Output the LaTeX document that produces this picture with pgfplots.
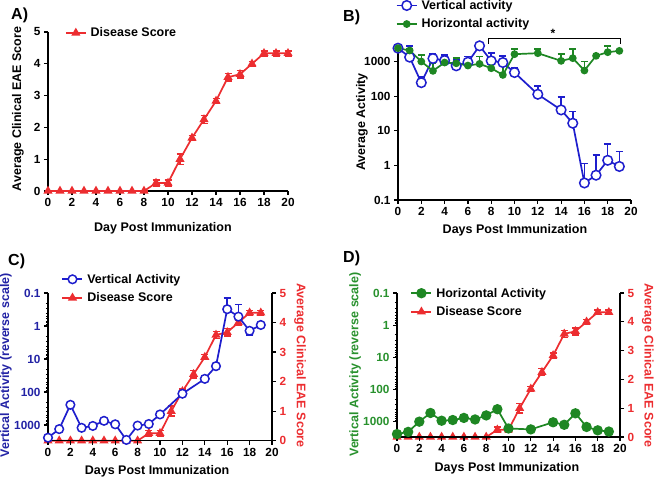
\documentclass[border=0pt]{standalone}
\usepackage{pgfplots}
\usepackage{pgfplotstable}
\pgfplotsset{compat=1.18}
\usepackage{fontspec}
\setmainfont{Liberation Sans}
\definecolor{myred}{RGB}{236,45,48}
\definecolor{myblue}{RGB}{30,30,205}
\definecolor{mygreen}{RGB}{30,135,35}
\definecolor{lblue}{RGB}{35,35,165}
\definecolor{lgreen}{RGB}{40,145,45}
\newcommand{\tf}{\fontsize{11.8}{13}\selectfont\bfseries}
\newcommand{\lf}{\fontsize{12.5}{14}\selectfont\bfseries}

\pgfplotstableread{
day score err
0 0 0
1 0 0
2 0 0
3 0 0
4 0 0
5 0 0
6 0 0
7 0 0
8 0 0
9 0.25 0.1
10 0.25 0.1
11 1.0 0.17
12 1.67 0.08
13 2.25 0.12
14 2.83 0.08
15 3.58 0.12
16 3.67 0.12
17 4.0 0.08
18 4.33 0.08
19 4.33 0.08
20 4.33 0.08
}\disease

\pgfplotstableread{
day val up cm cp
0 2430 0 0 0
1 1335 1465 0 0
2 245 115 0 0
3 1220 440 0 0
4 1070 480 0 0
5 750 370 0 0
6 955 425 0 0
7 2840 0 0 0
8 1045 700 0 0
9 935 515 0 0
10 480 170 0 0
12 113 84 0 0
14 40 53 8 0
15 16.5 20 0 0
16 0.31 0.84 0.17 0
17 0.52 1.5 0.30 0
18 1.4 2.8 0 0.5
19 0.93 1.6 0 0
}\vert

\pgfplotstableread{
day val up
0 2430 0
1 2080 300
2 1000 550
3 537 350
4 935 300
5 890 355
6 765 400
7 855 525
8 640 250
9 410 480
10 1630 640
12 1740 530
14 1045 585
15 1250 1020
16 550 450
17 1460 0
18 1860 980
19 2030 0
}\horz

\pgfplotsset{
  error bars/ebar/.style={error bar style={line width=1.5pt}, error mark options={rotate=90, mark size=3.5pt, line width=1.5pt}},
  gp/.style={scale only axis, anchor=south west,
    axis x line*=bottom, axis y line*=left,
    axis line style={-, line width=1.3pt, black},
    tick align=outside, major tick length=4pt, minor tick length=2.2pt,
    tick style={black, line width=1.2pt},
    minor tick style={line width=0.7pt},
    tick label style={font=\tf},
    /pgf/number format/assume math mode=true,
    clip=false,
    legend style={draw=none, fill=none, font=\lf, cells={anchor=west}, row sep=4pt, column sep=2pt, inner sep=0pt, nodes={inner sep=2pt}},
    legend image code/.code={\draw[mark repeat=2,mark phase=2,##1] plot coordinates {(0pt,0pt) (10pt,0pt) (20pt,0pt)};},
    xmin=0, xmax=20, xtick={0,2,...,20},
  },
  rightax/.style={scale only axis, anchor=south west, axis x line=none, axis y line*=right,
    axis line style={-, line width=1.3pt, black},
    tick align=outside, major tick length=4pt,
    tick style={black, line width=1.2pt},
    tick label style={font=\tf, color=myred},
    /pgf/number format/assume math mode=true, clip=false,
    xmin=0, xmax=20, ymin=0, ymax=5, ytick={0,...,5}},
}

\begin{document}
\begin{tikzpicture}[font=\bfseries]
\path[use as bounding box] (0,0) rectangle (655pt,479pt);

% Panel labels
\node[font=\fontsize{16}{18}\selectfont\bfseries, anchor=west, inner sep=0pt] at (11pt,464pt) {A)};
\node[font=\fontsize{16}{18}\selectfont\bfseries, anchor=west, inner sep=0pt] at (343pt,461.5pt) {B)};
\node[font=\fontsize{16}{18}\selectfont\bfseries, anchor=west, inner sep=0pt] at (8pt,218pt) {C)};
\node[font=\fontsize{16}{18}\selectfont\bfseries, anchor=west, inner sep=0pt] at (343pt,220.5pt) {D)};

% ---------------- A
\begin{axis}[gp, at={(48pt,288pt)}, width=240pt, height=159pt,
  ymin=0, ymax=5, ytick={0,...,5},
  xlabel={Day Post Immunization}, ylabel={Average Clinical EAE Score},
  every axis x label/.style={at={(axis description cs:0.479,-0.233)}, anchor=center, font=\lf},
  every axis y label/.style={at={(axis description cs:-0.125,0.516)}, anchor=center, rotate=90, font=\lf},
  legend style={at={(axis description cs:0.07,0.994)}, anchor=west}]
\addplot[color=myred, line width=1.7pt, mark=triangle*, mark size=3.6pt, error bars/.cd, y dir=both, y explicit, ebar] table[x=day, y=score, y error=err] {\disease};
\addlegendentry{Disease Score}
\end{axis}

% ---------------- B
\begin{axis}[gp, at={(398pt,279pt)}, width=233pt, height=155pt,
  ymode=log, ymin=0.1, ymax=3000, ytick={0.1,1,10,100,1000}, yticklabels={0.1,1,10,100,1000},
  yminorticks=false,
  xlabel={Days Post Immunization}, ylabel={Average Activity},
  every axis x label/.style={at={(axis description cs:0.502,-0.194)}, anchor=center, font=\lf},
  every axis y label/.style={at={(axis description cs:-0.155,0.503)}, anchor=center, rotate=90, font=\lf},
  legend style={at={(axis description cs:-0.01,1.195)}, anchor=west}]
\addplot[color=myblue, line width=1.7pt, mark=*, mark size=4.8pt, mark options={fill=white, line width=1.5pt},
  error bars/.cd, y dir=plus, y explicit, ebar] table[x=day, y=val, y error plus=up] {\vert};
\addlegendentry{Vertical activity}
\addplot[color=mygreen, line width=1.7pt, mark=*, mark size=3pt,
  error bars/.cd, y dir=plus, y explicit, ebar] table[x=day, y=val, y error plus=up] {\horz};
\addlegendentry{Horizontal activity}
\draw[line width=1pt, black] (axis cs:7.8,3160) -- (axis cs:7.8,4470) -- (axis cs:19.1,4470) -- (axis cs:19.1,3160);
\node[font=\fontsize{12}{14}\selectfont\bfseries] at (axis cs:13.3,6500) {*};
\end{axis}

% ---------------- C
\begin{axis}[rightax, at={(48pt,38.3pt)}, width=224pt, height=147.7pt,
  ylabel={Average Clinical EAE Score},
  every axis y label/.style={at={(axis description cs:1.125,0.51)}, anchor=center, rotate=-90, font=\lf, color=myred}]
\addplot[color=myred, line width=1.7pt, mark=triangle*, mark size=3.6pt, restrict x to domain=0:19, error bars/.cd, y dir=both, y explicit, ebar] table[x=day, y=score, y error=err] {\disease};
\end{axis}
\begin{axis}[gp, at={(48pt,38.3pt)}, width=224pt, height=147.7pt,
  ymode=log, y dir=reverse, ymin=0.1, ymax=3000,
  ytick={0.1,1,10,100,1000}, yticklabels={0.1,1,10,100,1000},
  minor ytick={0.2,0.3,0.4,0.5,0.6,0.7,0.8,0.9,2,3,4,5,6,7,8,9,20,30,40,50,60,70,80,90,200,300,400,500,600,700,800,900,2000,3000},
  yticklabel style={color=lblue},
  xlabel={Days Post Immunization}, ylabel={Vertical Activity (reverse scale)},
  every axis x label/.style={at={(axis description cs:0.487,-0.204)}, anchor=center, font=\lf},
  every axis y label/.style={at={(axis description cs:-0.1875,0.51)}, anchor=center, rotate=90, font=\lf, color=lblue},
  legend style={at={(axis description cs:0.06,1.03)}, anchor=west}]
\addplot[color=myblue, line width=1.7pt, mark=*, mark size=4.3pt, mark options={fill=white, line width=1.5pt},
  error bars/.cd, y dir=both, y explicit, ebar] table[x=day, y=val, y error plus=cp, y error minus=cm] {\vert};
\addlegendentry{Vertical Activity}
\addlegendimage{color=myred, line width=1.7pt, mark=triangle*, mark size=3.6pt}
\addlegendentry{Disease Score}
\end{axis}

% ---------------- D
\begin{axis}[rightax, at={(397pt,42pt)}, width=223pt, height=144pt,
  ylabel={Average Clinical EAE Score},
  every axis y label/.style={at={(axis description cs:1.125,0.497)}, anchor=center, rotate=-90, font=\lf, color=myred}]
\addplot[color=myred, line width=1.7pt, mark=triangle*, mark size=3.6pt, restrict x to domain=0:19, error bars/.cd, y dir=both, y explicit, ebar] table[x=day, y=score, y error=err] {\disease};
\end{axis}
\begin{axis}[gp, at={(397pt,42pt)}, width=223pt, height=144pt,
  ymode=log, y dir=reverse, ymin=0.1, ymax=3000,
  ytick={0.1,1,10,100,1000}, yticklabels={0.1,1,10,100,1000},
  minor ytick={0.2,0.3,0.4,0.5,0.6,0.7,0.8,0.9,2,3,4,5,6,7,8,9,20,30,40,50,60,70,80,90,200,300,400,500,600,700,800,900,2000,3000},
  yticklabel style={color=lgreen},
  xlabel={Days Post Immunization}, ylabel={Vertical Activity (reverse scale)},
  every axis x label/.style={at={(axis description cs:0.493,-0.214)}, anchor=center, font=\lf},
  every axis y label/.style={at={(axis description cs:-0.188,0.503)}, anchor=center, rotate=90, font=\lf, color=lgreen},
  legend style={at={(axis description cs:0.06,0.934)}, anchor=west}]
\addplot[color=mygreen, line width=1.7pt, mark=*, mark size=4.3pt] table[x=day, y=val] {\horz};
\addlegendentry{Horizontal Activity}
\addlegendimage{color=myred, line width=1.7pt, mark=triangle*, mark size=3.6pt}
\addlegendentry{Disease Score}
\end{axis}
\end{tikzpicture}
\end{document}
